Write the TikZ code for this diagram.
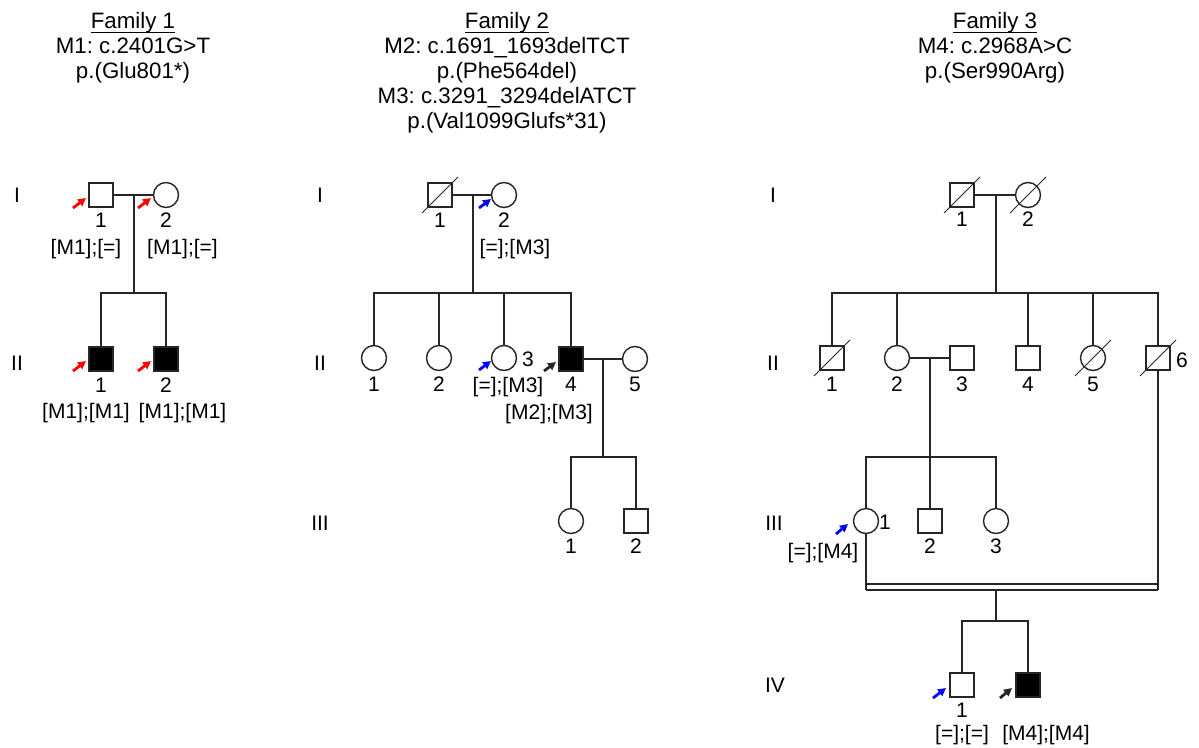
\documentclass[tikz,border=0pt]{standalone}
\usepackage{fontspec}
\setmainfont{Liberation Sans}
\usetikzlibrary{arrows.meta}
\frenchspacing
\newcommand\deceased[1]{\draw[dead] ([shift={(-18,18)}]#1.center) -- ([shift={(18,-18)}]#1.center);}
\begin{document}
\begin{tikzpicture}[x=1pt,y=-1pt,
  every node/.style={inner sep=0pt, outer sep=0pt},
  ln/.style={line width=1.4pt, draw=black!85},
  sq/.style={draw=black!85, line width=1.4pt, rectangle, minimum size=24pt},
  ci/.style={draw=black!85, line width=1.4pt, circle, minimum size=25pt},
  aff/.style={fill=black},
  lab/.style={font=\fontsize{21}{24}\selectfont\frenchspacing, anchor=base},
  ttl/.style={font=\fontsize{22.3}{26}\selectfont\frenchspacing, anchor=base},
  dead/.style={line width=1pt, draw=black!85},
  uline/.style={line width=1.5pt},
  ptr/.style={line width=2.8pt, -{Triangle[length=8pt,width=8pt]}},
  ptrR/.style={ptr, draw=red, fill=red},
  ptrB/.style={ptr, draw=blue, fill=blue},
  ptrK/.style={ptr, draw=black!85, fill=black!85}
]
\useasboundingbox (0,0) rectangle (1199,747);
\fill[white] (0,0) rectangle (1199,747);

% ---------------- Titles ----------------
\node[ttl] (t1a) at (133,28) {Family 1};
\draw[uline] ([yshift=-4.5pt]t1a.base west) -- ([yshift=-4.5pt]t1a.base east);
\node[ttl] (t1b) at (133,53) {M1: c.2401G>T};
\node[ttl] (t1c) at (133,78) {p.(Glu801*)};

\node[ttl] (t2a) at (507,28) {Family 2};
\draw[uline] ([yshift=-4.5pt]t2a.base west) -- ([yshift=-4.5pt]t2a.base east);
\node[ttl] (t2b) at (507,53) {M2: c.1691\_1693delTCT};
\node[ttl] (t2c) at (507,78) {p.(Phe564del)};
\node[ttl] (t2d) at (507,103) {M3: c.3291\_3294delATCT};
\node[ttl] (t2e) at (507,128) {p.(Val1099Glufs*31)};

\node[ttl] (t3a) at (995,28) {Family 3};
\draw[uline] ([yshift=-4.5pt]t3a.base west) -- ([yshift=-4.5pt]t3a.base east);
\node[ttl] (t3b) at (995,53) {M4: c.2968A>C};
\node[ttl] (t3c) at (995,78) {p.(Ser990Arg)};

% ---------------- Generation labels ----------------
\node[lab] (g1a) at (17,202) {I};
\node[lab] (g1b) at (17,370) {II};
\node[lab] (g2a) at (320,202) {I};
\node[lab] (g2b) at (320,370) {II};
\node[lab] (g2c) at (320,530) {III};
\node[lab] (g3a) at (773,202) {I};
\node[lab] (g3b) at (773,370) {II};
\node[lab] (g3c) at (774,530) {III};
\node[lab] (g3d) at (775,692) {IV};

% ---------------- Family 1 ----------------
\node[sq] (f1i1) at (101,195) {};
\node[ci] (f1i2) at (166,195) {};
\node[sq,aff] (f1ii1) at (101,359) {};
\node[sq,aff] (f1ii2) at (166,359) {};
\coordinate (f1m) at (134,195);
\coordinate (f1s) at (134,293);
\draw[ln] (f1i1.east) -- (f1i2.west);
\draw[ln] (f1m) -- (f1s);
\draw[ln] (f1ii1.north) |- (f1s) -| (f1ii2.north);

\node[lab] (n1a) at (101,227) {1};
\node[lab] (n1b) at (166,227) {2};
\node[lab] (n1c) at (86,254) {[M1];[=]};
\node[lab] (n1d) at (182.5,254) {[M1];[=]};
\node[lab] (n1e) at (101,392) {1};
\node[lab] (n1f) at (166,392) {2};
\node[lab] (n1g) at (86,418) {[M1];[M1]};
\node[lab] (n1h) at (182.5,418) {[M1];[M1]};

\draw[ptrR] ([shift={(-28,13)}]f1i1.center) -- ([shift={(-15,3)}]f1i1.center);
\draw[ptrR] ([shift={(-28,13)}]f1i2.center) -- ([shift={(-15,3)}]f1i2.center);
\draw[ptrR] ([shift={(-28,12)}]f1ii1.center) -- ([shift={(-15,2)}]f1ii1.center);
\draw[ptrR] ([shift={(-28,12)}]f1ii2.center) -- ([shift={(-15,2)}]f1ii2.center);

% ---------------- Family 2 ----------------
\node[sq] (f2i1) at (440,195) {};
\node[ci] (f2i2) at (504,195) {};
\node[ci] (f2ii1) at (374,358) {};
\node[ci] (f2ii2) at (439,358) {};
\node[ci] (f2ii3) at (504,358) {};
\node[sq,aff] (f2ii4) at (571,359) {};
\node[ci] (f2ii5) at (635,359) {};
\node[ci] (f2iii1) at (571,521) {};
\node[sq] (f2iii2) at (636,521) {};
\deceased{f2i1}
\coordinate (f2m) at (473,195);
\coordinate (f2s) at (473,293);
\coordinate (f2m2) at (603,359);
\coordinate (f2s2) at (603,457);
\draw[ln] (f2i1.east) -- (f2i2.west);
\draw[ln] (f2m) -- (f2s);
\draw[ln] (f2ii1.north) |- (f2s) -| (f2ii4.north);
\draw[ln] (f2ii2.north) -- (f2ii2.north |- f2s);
\draw[ln] (f2ii3.north) -- (f2ii3.north |- f2s);
\draw[ln] (f2ii4.east) -- (f2ii5.west);
\draw[ln] (f2m2) -- (f2s2);
\draw[ln] (f2iii1.north) |- (f2s2) -| (f2iii2.north);

\node[lab] (n2a) at (440,227) {1};
\node[lab] (n2b) at (504,227) {2};
\node[lab] (n2c) at (515,254) {[=];[M3]};
\node[lab] (n2d) at (374,391) {1};
\node[lab] (n2e) at (439,391) {2};
\node[lab] (n2f) at (528,366) {3};
\node[lab] (n2g) at (508,392) {[=];[M3]};
\node[lab] (n2h) at (571,391) {4};
\node[lab] (n2i) at (635,391) {5};
\node[lab] (n2j) at (549,419) {[M2];[M3]};
\node[lab] (n2k) at (571,553) {1};
\node[lab] (n2l) at (636,553) {2};

\draw[ptrB] ([shift={(-25,13)}]f2i2.center) -- ([shift={(-13,4)}]f2i2.center);
\draw[ptrB] ([shift={(-25,12)}]f2ii3.center) -- ([shift={(-13,3)}]f2ii3.center);
\draw[ptrK] ([shift={(-27,12)}]f2ii4.center) -- ([shift={(-15,3)}]f2ii4.center);

% ---------------- Family 3 ----------------
\node[sq] (f3i1) at (962,195) {};
\node[ci] (f3i2) at (1028,195) {};
\node[sq] (f3ii1) at (832,358) {};
\node[ci] (f3ii2) at (897,358) {};
\node[sq] (f3ii3) at (962,358) {};
\node[sq] (f3ii4) at (1028,358) {};
\node[ci] (f3ii5) at (1093,358) {};
\node[sq] (f3ii6) at (1158,358) {};
\node[ci] (f3iii1) at (866,521) {};
\node[sq] (f3iii2) at (930,521) {};
\node[ci] (f3iii3) at (996,521) {};
\node[sq] (f3iv1) at (962,685) {};
\node[sq,aff] (f3iv2) at (1028,685) {};
\deceased{f3i1}
\deceased{f3i2}
\deceased{f3ii1}
\deceased{f3ii5}
\deceased{f3ii6}
\coordinate (f3m) at (996,195);
\coordinate (f3s) at (996,293);
\coordinate (f3m2) at (930,358);
\coordinate (f3s2) at (930,457);
\coordinate (f3d1a) at (866,584);
\coordinate (f3d1b) at (1158,584);
\coordinate (f3d2a) at (866,590);
\coordinate (f3d2b) at (1158,590);
\coordinate (f3c) at (996,590);
\coordinate (f3s3) at (996,621);
\draw[ln] (f3i1.east) -- (f3i2.west);
\draw[ln] (f3m) -- (f3s);
\draw[ln] (f3ii1.north) |- (f3s) -| (f3ii6.north);
\draw[ln] (f3ii2.north) -- (f3ii2.north |- f3s);
\draw[ln] (f3ii4.north) -- (f3ii4.north |- f3s);
\draw[ln] (f3ii5.north) -- (f3ii5.north |- f3s);
\draw[ln] (f3ii2.east) -- (f3ii3.west);
\draw[ln] (f3m2) -- (f3s2);
\draw[ln] (f3s2) -- (f3iii2.north);
\draw[ln] (f3iii1.north) |- (f3s2) -| (f3iii3.north);
\draw[ln] (f3iii1.south) -- (f3d2a);
\draw[ln] (f3ii6.south) -- (f3d2b);
\draw[ln] (f3d1a) -- (f3d1b);
\draw[ln] (f3d2a) -- (f3d2b);
\draw[ln] (f3c) -- (f3s3);
\draw[ln] (f3iv1.north) |- (f3s3) -| (f3iv2.north);

\node[lab] (n3a) at (962,226) {1};
\node[lab] (n3b) at (1028,226) {2};
\node[lab] (n3c) at (832,391) {1};
\node[lab] (n3d) at (897,391) {2};
\node[lab] (n3e) at (962,391) {3};
\node[lab] (n3f) at (1028,391) {4};
\node[lab] (n3g) at (1093,391) {5};
\node[lab] (n3h) at (1182,367) {6};
\node[lab] (n3i) at (885,529) {1};
\node[lab] (n3j) at (930,553) {2};
\node[lab] (n3k) at (996,553) {3};
\node[lab] (n3l) at (823,558) {[=];[M4]};
\node[lab] (n3m) at (962,717) {1};
\node[lab] (n3n) at (962,740) {[=];[=]};
\node[lab] (n3o) at (1046,740) {[M4];[M4]};

\draw[ptrB] ([shift={(-30,13)}]f3iii1.center) -- ([shift={(-18,3)}]f3iii1.center);
\draw[ptrB] ([shift={(-29,13)}]f3iv1.center) -- ([shift={(-16,3)}]f3iv1.center);
\draw[ptrK] ([shift={(-28,13)}]f3iv2.center) -- ([shift={(-16,3)}]f3iv2.center);
\end{tikzpicture}
\end{document}
